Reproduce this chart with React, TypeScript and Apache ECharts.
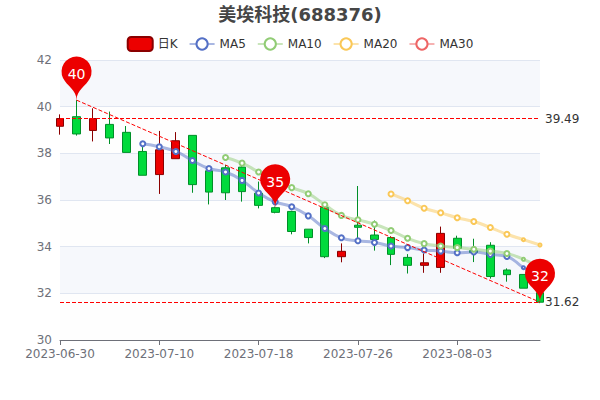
import React, { useEffect, useRef } from "react";
import * as echarts from "echarts";

const dates = ["2023-06-30","2023-07-03","2023-07-04","2023-07-05","2023-07-06","2023-07-07","2023-07-10","2023-07-11","2023-07-12","2023-07-13","2023-07-14","2023-07-17","2023-07-18","2023-07-19","2023-07-20","2023-07-21","2023-07-24","2023-07-25","2023-07-26","2023-07-27","2023-07-28","2023-07-31","2023-08-01","2023-08-02","2023-08-03","2023-08-04","2023-08-07","2023-08-08","2023-08-09","2023-08-10"];
// open, close, low, high
const kline = [
  [39.16,39.49,38.8,39.67],[39.57,38.83,38.76,40.28],[38.98,39.49,38.51,39.93],[39.24,38.66,38.4,39.79],
  [38.9,38.04,38.04,39.17],[38.08,37.06,37.06,38.28],[37.09,38.15,36.26,38.96],[37.77,38.54,37.77,38.91],
  [38.77,36.66,36.31,38.77],[37.25,36.34,35.81,37.43],[37.38,36.31,36.0,37.5],[37.41,36.36,35.93,37.5],
  [36.29,35.77,35.64,36.79],[35.67,35.47,35.43,35.72],[35.51,34.65,34.53,35.54],[34.75,34.39,34.14,34.75],
  [35.68,33.57,33.51,35.72],[33.57,33.8,33.33,34.14],[34.92,34.83,34.29,36.6],[34.5,34.31,33.83,35.12],
  [34.39,33.67,33.21,34.45],[33.54,33.2,32.85,33.68],[33.2,33.31,32.88,33.71],[33.11,34.57,32.88,34.86],
  [34.36,33.93,33.93,34.47],[33.83,33.75,33.34,34.34],[34.06,32.72,32.63,34.19],[33.0,32.8,32.5,33.07],
  [32.81,32.22,32.22,32.81],[32.03,31.62,31.58,32.13],
];
const ma5 = [null,null,null,null,null,38.41,38.28,38.08,37.69,37.35,37.2,36.84,36.3,35.92,35.71,35.32,34.78,34.38,34.25,34.18,34.03,33.96,33.86,33.81,33.74,33.77,33.67,33.58,33.1,32.73];
const ma10 = [null,null,null,null,null,null,null,null,null,null,37.82,37.58,37.2,36.86,36.53,36.27,35.8,35.34,35.15,34.96,34.69,34.36,34.13,34.03,33.96,33.89,33.81,33.71,33.46,33.13];
const ma20 = [null,null,null,null,null,null,null,null,null,null,null,null,null,null,null,null,null,null,null,null,36.26,35.97,35.65,35.45,35.24,35.08,34.82,34.53,34.3,34.07];
const ma30: (number | null)[] = [];
const pins = [
  { index: 1, price: 40.28, label: 40 },
  { index: 13, price: 35.67, label: 35 },
  { index: 29, price: 31.62, label: 32 },
];

const maLine = (name: string, data: (number | null)[], color: string) => ({
  name,
  type: "line",
  data,
  smooth: true,
  symbol: "emptyCircle",
  symbolSize: (_v: unknown, p: { dataIndex: number }) => (p.dataIndex >= 28 ? 3 : 5),
  itemStyle: { color, borderWidth: 2 },
  lineStyle: { width: 3, opacity: 0.5, color },
  z: 3,
});
const FONT = "'DejaVu Sans', 'Noto Sans CJK SC', sans-serif";
const AXIS_GREY = "#6E7079";
const dash = { color: "#ff0000", type: "dashed", width: 1, opacity: 1 };

export default function App() {
  const ref = useRef<HTMLDivElement>(null);
  useEffect(() => {
    document.body.style.margin = "0";
    const chart = echarts.init(ref.current!, undefined, { renderer: "svg" });
    chart.setOption({
      animation: false,
      textStyle: { fontFamily: FONT },
      title: {
        text: "美埃科技(688376)",
        left: "center",
        top: 0,
        textStyle: { fontSize: 18, fontWeight: "bold", color: "#464646", fontFamily: FONT },
      },
      legend: {
        top: 31,
        itemGap: 11,
        data: ["日K", "MA5", "MA10", "MA20", "MA30"],
        textStyle: { color: "#333", fontFamily: FONT },
      },
      grid: { left: 60, right: 60, top: 60, bottom: 60 },
      xAxis: {
        type: "category",
        data: dates,
        boundaryGap: false,
        axisLine: { lineStyle: { color: AXIS_GREY } },
        axisTick: { show: true, interval: 5, lineStyle: { color: AXIS_GREY } },
        axisLabel: { interval: 5, color: AXIS_GREY, fontFamily: FONT },
      },
      yAxis: {
        type: "value",
        min: 30,
        max: 42,
        interval: 2,
        axisLabel: { color: AXIS_GREY, fontFamily: FONT },
        splitLine: { lineStyle: { color: "#E0E6F1" } },
        splitArea: { show: true, areaStyle: { color: ["rgba(250,250,250,0.2)", "rgba(210,219,238,0.2)"] } },
      },
      series: [
        {
          name: "日K",
          type: "candlestick",
          data: kline,
          clip: false,
          itemStyle: { color: "#ec0000", color0: "#00da3c", borderColor: "#8A0000", borderColor0: "#008F28" },
          markPoint: {
            symbolSize: 50,
            itemStyle: { color: "#ec0000" },
            label: { fontSize: 14, color: "#fff", fontFamily: FONT },
            data: pins.map((p) => ({ coord: [p.index, p.price], value: p.label })),
          },
          markLine: {
            symbol: "none",
            silent: true,
            lineStyle: dash,
            label: { position: "end", color: "#333", fontFamily: FONT },
            data: [
              [
                { coord: [pins[0].index, pins[0].price], lineStyle: dash, label: { show: false } },
                { coord: [pins[2].index, pins[2].price], lineStyle: dash },
              ],
              { type: "min", valueDim: "close", lineStyle: dash },
              { type: "max", valueDim: "close", lineStyle: dash },
            ],
          },
        },
        maLine("MA5", ma5, "#5470c6"),
        maLine("MA10", ma10, "#91cc75"),
        maLine("MA20", ma20, "#fac858"),
        maLine("MA30", ma30, "#ee6666"),
      ],
    });
    return () => chart.dispose();
  }, []);
  return <div ref={ref} style={{ width: 600, height: 400 }} />;
}
